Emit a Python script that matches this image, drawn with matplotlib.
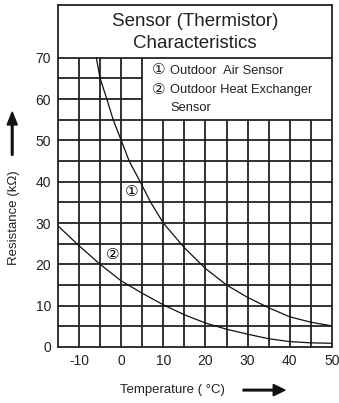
import matplotlib
matplotlib.use("Agg")
import matplotlib.pyplot as plt
import numpy as np

plt.rcParams["font.family"] = ["Liberation Sans", "DejaVu Sans"]
plt.rcParams["axes.unicode_minus"] = False

# curve 1: outdoor air sensor
t1 = [-5.9, -5.0, -3.4, -1.9, 0, 1.9, 4.5, 7.0, 10, 15, 20, 25, 30, 35, 40, 45, 50]
r1 = [70, 65, 60, 55, 50, 45, 40, 35, 30, 24, 19, 15, 12, 9.5, 7.3, 6.0, 5.1]
# curve 2: outdoor heat exchanger sensor
t2 = [-15, -10, -5, 0, 5, 10, 15, 20, 25, 30, 35, 40, 45, 50]
r2 = [29.3, 24.5, 20, 16, 13, 10.2, 7.8, 5.8, 4.3, 3.1, 2.0, 1.3, 1.0, 0.9]

xticks = [-10, 0, 10, 20, 30, 40, 50]
yticks = [0, 10, 20, 30, 40, 50, 60, 70]
xgrid = [-10, -5, 0, 5, 10, 15, 20, 25, 30, 35, 40, 45]
ygrid = [5, 10, 15, 20, 25, 30, 35, 40, 45, 50, 55, 60, 65, 70]

XMIN, XMAX, YMIN, YMAX = -15, 50, 0, 82.8
LEG_X, LEG_Y, TOP_Y = 5, 55, 70
GC = "#222222"

fig = plt.figure(figsize=(3.39, 4.03), dpi=100)
ax = fig.add_axes([0.171, 0.139, 0.808, 0.849])
ax.set_xlim(XMIN, XMAX)
ax.set_ylim(YMIN, YMAX)

# grid, cut away behind the legend box and title box
for x in xgrid:
    top = TOP_Y if x <= LEG_X else LEG_Y
    ax.plot([x, x], [YMIN, top], color=GC, lw=1.3, solid_capstyle="butt")
for y in ygrid:
    right = XMAX if (y <= LEG_Y or y == TOP_Y) else LEG_X
    ax.plot([XMIN, right], [y, y], color=GC, lw=1.3, solid_capstyle="butt")

ax.plot(t1, r1, color="#111", lw=0.9)
ax.plot(t2, r2, color="#111", lw=0.9)
ax.text(2.6, 37.5, "\u2460", fontsize=11, ha="center", va="center",
        bbox=dict(fc="white", ec="none", pad=0.2))
ax.text(-2.1, 22.3, "\u2461", fontsize=11, ha="center", va="center",
        bbox=dict(fc="white", ec="none", pad=0.2))

ax.text(17.5, 78.8, "Sensor (Thermistor)", fontsize=13.5, ha="center", va="center",
        color="#222")
ax.text(17.5, 73.5, "Characteristics", fontsize=13.5, ha="center", va="center",
        color="#222")
ax.text(9.0, 67.0, "\u2460", fontsize=11, ha="center", va="center", color="#222")
ax.text(9.0, 62.3, "\u2461", fontsize=11, ha="center", va="center", color="#222")
ax.text(11.6, 66.9, "Outdoor  Air Sensor", fontsize=9.3, va="center", color="#222")
ax.text(11.6, 62.2, "Outdoor Heat Exchanger", fontsize=9.3, va="center", color="#222")
ax.text(11.6, 57.8, "Sensor", fontsize=9.3, va="center", color="#222")

ax.set_xticks(xticks)
ax.set_yticks(yticks)
ax.tick_params(length=0, labelsize=10, colors="#222", pad=5)
for sp in ax.spines.values():
    sp.set_linewidth(1.3)
    sp.set_color(GC)

fig.text(0.042, 0.459, "Resistance (k\u03a9)", rotation=90, fontsize=9.5,
         ha="center", va="center", color="#222")
fig.text(0.51, 0.032, "Temperature ( \u00b0C)", fontsize=9.5, ha="center",
         va="center", color="#222")
fig.patches.append(matplotlib.patches.FancyArrow(
    0.036, 0.615, 0, 0.107, width=0.005, head_width=0.03, head_length=0.032,
    length_includes_head=True, color="#111", transform=fig.transFigure))
fig.patches.append(matplotlib.patches.FancyArrow(
    0.717, 0.032, 0.124, 0, width=0.004, head_width=0.028, head_length=0.035,
    length_includes_head=True, color="#111", transform=fig.transFigure))

fig.savefig("out.png", dpi=100, facecolor="white")
